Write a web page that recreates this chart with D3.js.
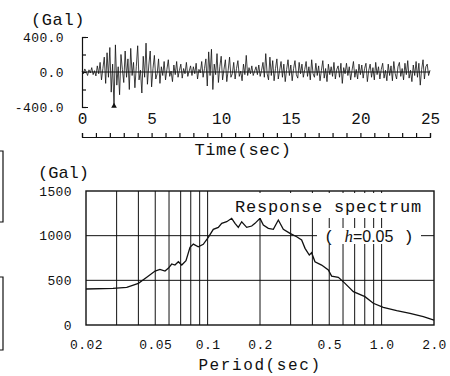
<!DOCTYPE html>
<html>
<head>
<meta charset="utf-8">
<script src="https://cdn.jsdelivr.net/npm/d3@7"></script>
<style>
  body { margin: 0; background: #fff; }
  svg text { font-family: "Liberation Mono", "DejaVu Sans Mono", monospace; fill: #111; }
  .axis path, .axis line { stroke: #111; stroke-width: 1.2; }
</style>
</head>
<body>
<div id="chart"></div>
<script>
// accelerogram, 0.1 s step, Gal
var accel = [
  10,-20,35,5,-40,25,-10,50,-30,15,
  -45,70,-20,110,-90,40,170,-130,220,-60,
  280,-230,90,-400,310,-150,60,-260,200,30,
  -120,240,-60,150,-200,270,-40,110,-180,60,
  300,-90,20,-240,180,-60,330,-140,80,240,
  -170,40,190,-80,-20,150,-130,60,-40,120,
  -90,30,140,-50,10,-110,80,-30,120,-60,
  20,90,-70,40,-20,110,-50,10,70,-40,
  60,-20,100,-80,30,-10,120,-60,40,150,
  -160,230,-40,260,-200,90,-30,210,-120,60,
  180,-90,30,140,-110,20,170,-60,-20,110,
  -80,40,130,-50,10,-100,90,-30,190,-40,
  50,-20,70,-40,10,60,-30,80,-50,20,
  110,-60,210,-20,-90,170,-40,130,-100,40,
  150,-80,20,120,-60,90,-110,30,140,-40,
  80,-100,40,130,-30,-70,110,-20,90,-60,
  30,120,-50,60,-90,140,-20,-60,100,-40,
  70,-100,20,130,-70,40,-110,90,-30,60,
  -50,110,-80,30,70,-60,100,-130,50,-20,
  100,-40,60,-90,20,120,-60,30,-80,90,
  -30,80,-70,40,100,-110,20,90,-60,50,
  -90,110,-30,60,-80,30,100,-70,20,-100,
  90,-40,70,-100,120,-20,-80,60,110,-50,
  40,-90,100,-30,130,-70,20,-110,80,-40,
  120,-60,100,-150,30,140,-80,60,90,-40,
  20
];
var timeStep = 0.1;
var timeTicks = [0,5,10,15,20,25];
var accelTicks = [-400,0,400];
var accelLabels = ["-400.0","0.0","400.0"];

// response spectrum (h=0.05)
var periods = [0.02,0.0286,0.0343,0.040,0.0447,0.0499,0.0532,0.0569,0.0594,0.0622,
  0.0649,0.0679,0.0710,0.0751,0.0792,0.0828,0.0884,0.0944,0.1009,0.1078,
  0.1152,0.1205,0.1287,0.1375,0.1437,0.1501,0.157,0.1677,0.1792,0.1872,
  0.2,0.209,0.2233,0.2386,0.2549,0.2723,0.2975,0.325,0.347,0.363,
  0.384,0.396,0.414,0.452,0.494,0.516,0.564,0.616,0.688,0.802,
  0.896,1.022,1.221,1.456,1.736,1.94,2.0];
var spectrum = [403,410,421,466,534,604,623,604,634,683,
  671,708,671,720,869,906,876,903,981,1071,
  1093,1138,1156,1194,1138,1093,1156,1093,1108,1138,
  1194,1119,1082,1071,1175,1071,1026,988,951,858,
  783,809,708,671,615,548,534,466,373,317,
  243,198,160,131,93,64,55];
var periodTicks = [0.02,0.05,0.1,0.2,0.5,1.0,2.0];
var periodLabels = ["0.02","0.05","0.1","0.2","0.5","1.0","2.0"];
var periodGrid = [0.03,0.04,0.05,0.06,0.07,0.08,0.09,0.1,0.2,0.3,0.4,0.5,0.6,0.7,0.8,0.9,1.0];
var saTicks = [0,500,1000,1500];
var saGrid = [500,1000];

var svg = d3.select("#chart").append("svg")
  .attr("width", 450).attr("height", 376);
svg.append("rect").attr("width", 450).attr("height", 376).attr("fill", "#fff");

// ---- top: time history ----
var xT = d3.scaleLinear().domain([0, 25]).range([82, 430]);
var yT = d3.scaleLinear().domain([-400, 400]).range([107, 37]);

// bracket axis
svg.append("g").attr("class", "axis")
  .attr("transform", "translate(82,0)")
  .call(d3.axisRight(yT).tickValues([-400,-200,0,200,400]).tickSizeInner(4).tickSizeOuter(6).tickFormat(""))
  .call(g => g.selectAll("text").remove());

svg.append("g")
  .attr("transform", "translate(82,0)")
  .call(d3.axisLeft(yT).tickValues(accelTicks).tickSize(0).tickPadding(18)
    .tickFormat((d, i) => accelLabels[i]))
  .call(g => g.select(".domain").remove())
  .call(g => g.selectAll("text").style("font-size", "13px").attr("letter-spacing", 0.4));

svg.append("text").attr("x", 31).attr("y", 25)
  .style("font-size", "17px").attr("letter-spacing", 0.6).text("(Gal)");

// zero line
svg.append("line")
  .attr("x1", xT(0)).attr("x2", xT(25)).attr("y1", yT(0)).attr("y2", yT(0))
  .attr("stroke", "#111").attr("stroke-width", 1);

var traceLine = d3.line()
  .x((d, i) => xT(i * timeStep))
  .y(d => yT(d));
svg.append("path").datum(accel)
  .attr("d", traceLine)
  .attr("fill", "none").attr("stroke", "#111").attr("stroke-width", 0.8);

// marker at the peak
var minIdx = d3.minIndex(accel);
svg.append("path")
  .attr("d", d3.symbol(d3.symbolTriangle, 14)())
  .attr("transform", "translate(" + xT(minIdx * timeStep) + "," + (yT(accel[minIdx]) - 1) + ")")
  .attr("fill", "#111");

// time axis (ticks up, labels above)
svg.append("g").attr("class", "axis")
  .attr("transform", "translate(0,137)")
  .call(d3.axisTop(xT).tickValues(d3.range(0, 26)).tickSizeInner(4).tickSizeOuter(4).tickFormat(""));
svg.append("g")
  .attr("transform", "translate(0,137)")
  .call(d3.axisTop(xT).tickValues(timeTicks).tickSize(0).tickPadding(13).tickFormat(d3.format("d")))
  .call(g => g.select(".domain").remove())
  .call(g => g.selectAll("text").style("font-size", "16px"));

svg.append("text").attr("x", 243).attr("y", 155).attr("text-anchor", "middle")
  .style("font-size", "17px").attr("letter-spacing", 0.6).text("Time(sec)");

// ---- bottom: response spectrum ----
var xB = d3.scaleLog().domain([0.02, 2]).range([86, 434]);
var yB = d3.scaleLinear().domain([0, 1500]).range([325, 191]);

var grid = svg.append("g").attr("stroke", "#111").attr("stroke-width", 1);
grid.selectAll(".vg").data(periodGrid).join("line")
  .attr("x1", d => xB(d)).attr("x2", d => xB(d))
  .attr("y1", yB(1500)).attr("y2", yB(0));
grid.selectAll(".hg").data(saGrid).join("line")
  .attr("x1", xB(0.02)).attr("x2", xB(2))
  .attr("y1", d => yB(d)).attr("y2", d => yB(d));

var specLine = d3.line()
  .x((d, i) => xB(periods[i]))
  .y(d => yB(d));
svg.append("path").datum(spectrum)
  .attr("d", specLine)
  .attr("fill", "none").attr("stroke", "#111").attr("stroke-width", 1.3);

// labels with white backing
svg.append("rect").attr("x", 232).attr("y", 193).attr("width", 194).attr("height", 25).attr("fill", "#fff");
svg.append("text").attr("x", 235).attr("y", 212)
  .style("font-size", "17px").attr("letter-spacing", 0.8).text("Response spectrum");

svg.append("rect").attr("x", 317).attr("y", 228).attr("width", 104).attr("height", 16).attr("fill", "#fff");
var hText = svg.append("text").attr("x", 324).attr("y", 242).style("font-size", "17px");
hText.append("tspan").text("( ");
hText.append("tspan").style("font-family", "'Liberation Serif', serif").style("font-style", "italic").text("h");
hText.append("tspan").style("font-family", "'Liberation Sans', sans-serif").style("font-size", "16px").text("=0.05");
hText.append("tspan").text(" )");

// frame
svg.append("rect")
  .attr("x", xB(0.02)).attr("y", yB(1500))
  .attr("width", xB(2) - xB(0.02)).attr("height", yB(0) - yB(1500))
  .attr("fill", "none").attr("stroke", "#111").attr("stroke-width", 1.4);

svg.append("g")
  .attr("transform", "translate(86,0)")
  .call(d3.axisLeft(yB).tickValues(saTicks).tickSize(0).tickPadding(14).tickFormat(d3.format("d")))
  .call(g => g.select(".domain").remove())
  .call(g => g.selectAll("text").style("font-size", "13px").attr("letter-spacing", 0.4));

svg.append("text").attr("x", 38).attr("y", 178)
  .style("font-size", "17px").attr("letter-spacing", 0).text("(Gal)");

svg.append("g")
  .attr("transform", "translate(0,325)")
  .call(d3.axisBottom(xB).tickValues(periodTicks).tickSize(0).tickPadding(15)
    .tickFormat((d, i) => periodLabels[i]))
  .call(g => g.select(".domain").remove())
  .call(g => g.selectAll("text").style("font-size", "13px").attr("letter-spacing", 0.4));

svg.append("text").attr("x", 260).attr("y", 370).attr("text-anchor", "middle")
  .style("font-size", "16px").attr("letter-spacing", 1.6).text("Period(sec)");

// clipped edges of the neighbouring figure
svg.append("path")
  .attr("d", "M0,151H3V222H0 M0,277H3V350H0")
  .attr("fill", "none").attr("stroke", "#111").attr("stroke-width", 1.2);
</script>
</body>
</html>
